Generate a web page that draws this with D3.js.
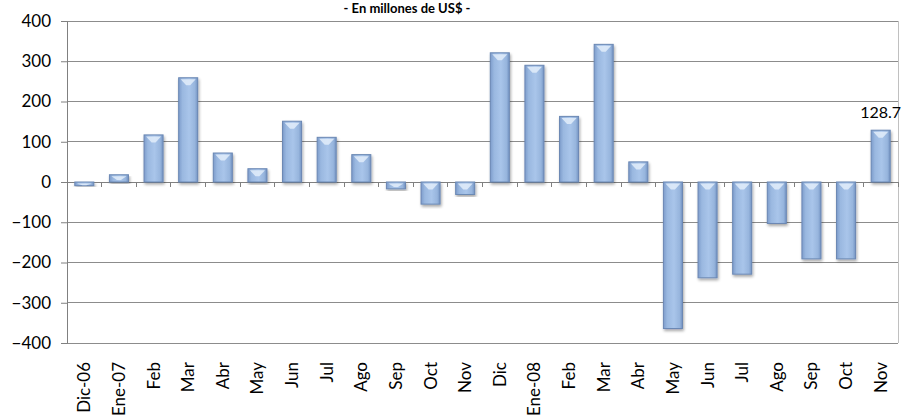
<!DOCTYPE html>
<html><head><meta charset="utf-8">
<script src="https://cdn.jsdelivr.net/npm/d3@7"></script>
<style>body{margin:0;background:#fff}svg{display:block}</style>
</head><body>
<script>
const categories = ["Dic-06","Ene-07","Feb","Mar","Abr","May","Jun","Jul","Ago","Sep","Oct","Nov","Dic","Ene-08","Feb","Mar","Abr","May","Jun","Jul","Ago","Sep","Oct","Nov"];
const values = [-9,18,117,259,72,33,151,111,68,-17,-55,-31,321,290,163,342,50,-364,-238,-229,-103,-191,-191,128.7];
const yTicks = [400,300,200,100,0,-100,-200,-300,-400];
const title = "- En millones de US$ -";
const labelIndex = 23;

const W = 904, H = 419;
const m = {left:67, right:6, top:21, bottom:76};
const svg = d3.select("body").append("svg").attr("width",W).attr("height",H);
const font = "Lato, 'Open Sans', sans-serif";

const x = d3.scaleBand().domain(d3.range(categories.length)).range([m.left, W-m.right]).paddingInner(0.45).paddingOuter(0.225);
const y = d3.scaleLinear().domain([-400,400]).range([H-m.bottom, m.top]);

const defs = svg.append("defs");
const g1 = defs.append("linearGradient").attr("id","barg").attr("x1","0").attr("x2","1").attr("y1","0").attr("y2","0");
g1.append("stop").attr("offset","0").attr("stop-color","#7d9ccb");
g1.append("stop").attr("offset","0.2").attr("stop-color","#9ab8e0");
g1.append("stop").attr("offset","0.55").attr("stop-color","#a9c5ea");
g1.append("stop").attr("offset","0.85").attr("stop-color","#97b5dd");
g1.append("stop").attr("offset","1").attr("stop-color","#7393c2");
const f = defs.append("filter").attr("id","sh").attr("x","-30%").attr("y","-10%").attr("width","160%").attr("height","130%");
f.append("feGaussianBlur").attr("in","SourceAlpha").attr("stdDeviation",1.5).attr("result","b");
f.append("feOffset").attr("in","b").attr("dx",1).attr("dy",2).attr("result","o");
f.append("feComponentTransfer").attr("in","o").attr("result","o2").append("feFuncA").attr("type","linear").attr("slope",0.35);
const fm = f.append("feMerge"); fm.append("feMergeNode").attr("in","o2"); fm.append("feMergeNode").attr("in","SourceGraphic");

// gridlines
svg.append("g").selectAll("line").data(yTicks).join("line")
  .attr("x1",m.left).attr("x2",W-m.right).attr("y1",d=>y(d)).attr("y2",d=>y(d))
  .attr("stroke",d=>d===0?"#808080":"#8c8c8c").attr("stroke-width",1).attr("shape-rendering","crispEdges");
// right border
svg.append("line").attr("x1",W-m.right).attr("x2",W-m.right).attr("y1",y(400)).attr("y2",y(-400))
  .attr("stroke","#c0c0c0").attr("shape-rendering","crispEdges");

// y axis
const ya = svg.append("g").attr("transform",`translate(${m.left},0)`)
  .call(d3.axisLeft(y).tickValues(yTicks).tickSize(6).tickPadding(10).tickFormat(d3.format("d")));
ya.select(".domain").attr("stroke","#808080");
ya.selectAll(".tick line").attr("stroke","#808080");
ya.selectAll("text").attr("font-family",font).attr("font-size",17).attr("fill","#000");

// bars
const bars = svg.append("g").selectAll("g").data(values).join("g").attr("filter","url(#sh)");
bars.append("rect")
  .attr("x",(d,i)=>x(i)).attr("width",x.bandwidth())
  .attr("y",d=>y(Math.max(0,d))).attr("height",d=>Math.abs(y(d)-y(0)))
  .attr("fill","url(#barg)").attr("stroke","#6b88b4").attr("stroke-width",1);
// top bevel highlight
bars.append("path")
  .attr("d",(d,i)=>{const x0=x(i)+2,x1=x(i)+x.bandwidth()-2,yt=y(Math.max(0,d))+1.5,h=Math.min(6,Math.abs(y(d)-y(0))/2);
    return `M${x0},${yt}L${x1},${yt}L${(x0+x1)/2+2},${yt+h}L${(x0+x1)/2-2},${yt+h}Z`;})
  .attr("fill","#e6f0fb").attr("opacity",0.8);

// x axis ticks at zero
const xa = svg.append("g").attr("transform",`translate(0,${y(0)})`);
xa.selectAll("line").data(d3.range(categories.length+1)).join("line")
  .attr("x1",i=>m.left+i*(W-m.right-m.left)/categories.length).attr("x2",i=>m.left+i*(W-m.right-m.left)/categories.length)
  .attr("y1",0).attr("y2",5).attr("stroke","#808080").attr("shape-rendering","crispEdges");

// x labels
svg.append("g").selectAll("text").data(categories).join("text")
  .attr("transform",(d,i)=>`translate(${x(i)+x.bandwidth()/2+6},${H-m.bottom+19}) rotate(-90)`)
  .attr("text-anchor","end").attr("font-family",font).attr("font-size",17).attr("fill","#000").text(d=>d);

// data label
svg.append("text").attr("x",x(labelIndex)+x.bandwidth()/2).attr("y",y(values[labelIndex])-12)
  .attr("text-anchor","middle").attr("font-family",font).attr("font-size",16).attr("fill","#000")
  .text(d3.format(".1f")(values[labelIndex]));

// title
svg.append("text").attr("x",407).attr("y",13).attr("text-anchor","middle")
  .attr("font-family",font).attr("font-weight","bold").attr("font-size",13).text(title);
</script>
</body></html>
